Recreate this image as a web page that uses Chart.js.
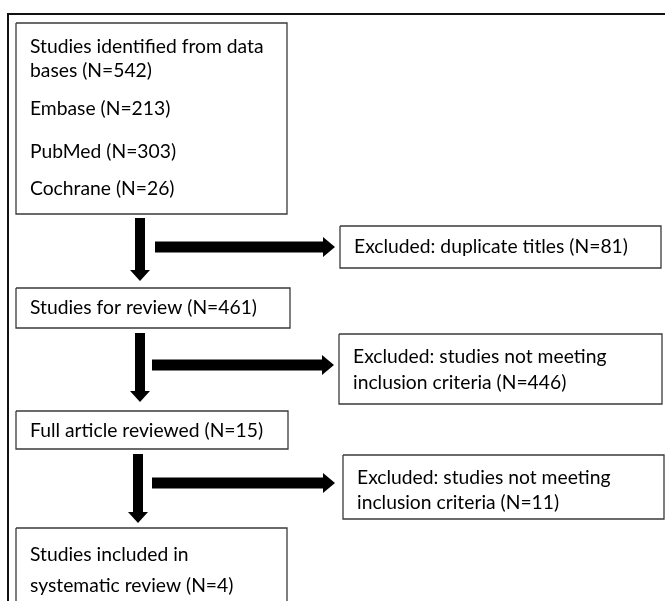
<!DOCTYPE html>
<html>
<head>
<meta charset="utf-8">
<script src="https://cdn.jsdelivr.net/npm/chart.js@4"></script>
<style>
  html, body { margin: 0; padding: 0; background: #fff; }
  canvas { display: block; }
</style>
</head>
<body>
<canvas id="flow" width="665" height="601"></canvas>
<script>
// box texts, one list of lines per box
const boxText = [
  ["Studies identified from data", "bases (N=542)", "Embase (N=213)", "PubMed (N=303)", "Cochrane (N=26)"],
  ["Excluded: duplicate titles (N=81)"],
  ["Studies for review (N=461)"],
  ["Excluded: studies not meeting", "inclusion criteria (N=446)"],
  ["Full article reviewed (N=15)"],
  ["Excluded: studies not meeting", "inclusion criteria (N=11)"],
  ["Studies included in", "systematic review (N=4)"]
];

// box extents in chart units
const boxLeft = [16, 340, 16, 339, 16, 343, 16];
const boxRight = [287, 661, 290, 662, 288, 664, 287];
const boxTop = [23, 226, 288, 334, 411, 455, 528];
const boxBottom = [214, 268, 328, 404, 449, 519, 615];
const lineY = [
  [47, 71, 109, 152, 189],
  [247],
  [308],
  [357, 383],
  [431],
  [478, 503],
  [555, 586]
];

// arrows
const downX = [140, 140, 138];
const downFrom = [218, 333, 454];
const downTo = [281, 402, 523];
const sideY = [247, 365, 483];
const sideFrom = [155, 152, 152];
const sideTo = [335, 334, 335];

const boxSets = boxText.map((t, i) => ({
  label: t[0],
  data: [
    { x: boxLeft[i], y: boxTop[i] },
    { x: boxRight[i], y: boxTop[i] },
    { x: boxRight[i], y: boxBottom[i] },
    { x: boxLeft[i], y: boxBottom[i] },
    { x: boxLeft[i], y: boxTop[i] }
  ],
  showLine: true,
  borderColor: "#3a3a3a",
  borderWidth: 1.3,
  borderJoinStyle: "miter",
  pointRadius: 0,
  fill: false
}));

// outer frame, runs off the right and bottom
boxSets.push({
  label: "frame",
  data: [{ x: 8, y: 640 }, { x: 8, y: 14 }, { x: 700, y: 14 }],
  showLine: true,
  borderColor: "#111",
  borderWidth: 2,
  borderJoinStyle: "miter",
  pointRadius: 0,
  fill: false
});

const flowPlugin = {
  id: "flow",
  afterDatasetsDraw(chart) {
    const { ctx, scales: { x, y } } = chart;
    ctx.save();
    ctx.fillStyle = "#000";

    // down arrows
    downX.forEach((cx, i) => {
      const px = x.getPixelForValue(cx);
      const y0 = y.getPixelForValue(downFrom[i]);
      const y1 = y.getPixelForValue(downTo[i]);
      const shaft = 5, head = 10, headLen = 11;
      ctx.beginPath();
      ctx.moveTo(px - shaft, y0);
      ctx.lineTo(px + shaft, y0);
      ctx.lineTo(px + shaft, y1 - headLen);
      ctx.lineTo(px + head, y1 - headLen);
      ctx.lineTo(px, y1);
      ctx.lineTo(px - head, y1 - headLen);
      ctx.lineTo(px - shaft, y1 - headLen);
      ctx.closePath();
      ctx.fill();
    });

    // side arrows
    sideY.forEach((cy, i) => {
      const py = y.getPixelForValue(cy);
      const x0 = x.getPixelForValue(sideFrom[i]);
      const x1 = x.getPixelForValue(sideTo[i]);
      const shaft = 5.5, head = 10, headLen = 12;
      ctx.beginPath();
      ctx.moveTo(x0, py - shaft);
      ctx.lineTo(x1 - headLen, py - shaft);
      ctx.lineTo(x1 - headLen, py - head);
      ctx.lineTo(x1, py);
      ctx.lineTo(x1 - headLen, py + head);
      ctx.lineTo(x1 - headLen, py + shaft);
      ctx.lineTo(x0, py + shaft);
      ctx.closePath();
      ctx.fill();
    });

    // texts
    ctx.font = "19.3px Lato, 'Open Sans', sans-serif";
    ctx.textBaseline = "middle";
    ctx.textAlign = "left";
    ctx.fillStyle = "#000";
    boxText.forEach((lines, i) => {
      const tx = x.getPixelForValue(boxLeft[i] + 14);
      lines.forEach((s, j) => {
        ctx.fillText(s, tx, y.getPixelForValue(lineY[i][j]));
      });
    });
    ctx.restore();
  }
};

new Chart(document.getElementById("flow"), {
  type: "scatter",
  data: { datasets: boxSets },
  options: {
    responsive: false,
    animation: false,
    layout: { padding: 0 },
    plugins: { legend: { display: false }, tooltip: { enabled: false } },
    scales: {
      x: { type: "linear", min: 0, max: 665, display: false },
      y: { type: "linear", min: 0, max: 601, reverse: true, display: false }
    }
  },
  plugins: [flowPlugin]
});
</script>
</body>
</html>
